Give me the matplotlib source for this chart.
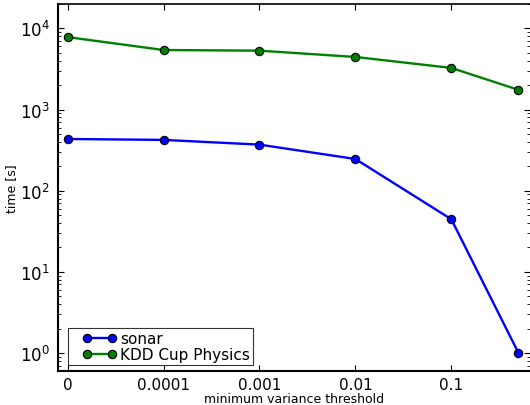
import matplotlib
matplotlib.use("Agg")
import matplotlib.pyplot as plt
from matplotlib.ticker import LogLocator, NullFormatter
from matplotlib.legend_handler import HandlerLine2D

# positions on the x axis (last point is 0.5, no tick label)
x_pos = [0, 1, 2, 3, 4, 4.7]
x_ticks = [0, 1, 2, 3, 4]
x_labels = ["0", "0.0001", "0.001", "0.01", "0.1"]

sonar = [434, 423, 370, 246, 44.5, 1.0]
kdd = [7820, 5420, 5320, 4450, 3260, 1750]

fig = plt.figure(figsize=(5.30, 4.06), dpi=100)
ax = fig.add_axes([0.1094, 0.0837, 0.8906, 0.904])

l1, = ax.plot(x_pos, sonar, "-o", color="blue", lw=1.7, ms=6, mec="black", mew=0.8, label="sonar")
l2, = ax.plot(x_pos, kdd, "-o", color="green", lw=1.7, ms=6, mec="black", mew=0.8, label="KDD Cup Physics")

ax.set_yscale("log")
ax.set_ylim(0.6, 2e4)
ax.set_xlim(-0.1, 4.82)
ax.set_xticks(x_ticks)
ax.set_xticklabels(x_labels)
ax.yaxis.set_minor_locator(LogLocator(base=10, subs=range(2, 10), numticks=20))
ax.yaxis.set_minor_formatter(NullFormatter())

ax.tick_params(which="both", direction="in", top=True, right=True)
ax.tick_params(which="major", length=4, width=0.8)
ax.tick_params(which="minor", length=2, width=0.6)
ax.tick_params(axis="x", labelsize=11, pad=4)
ax.tick_params(axis="y", labelsize=12, pad=6)
for s in ["left", "bottom"]:
    ax.spines[s].set_linewidth(1.5)
ax.spines["top"].set_linewidth(1.2)
ax.spines["right"].set_visible(False)

ax.set_xlabel("minimum variance threshold", fontsize=9, labelpad=0)
ax.set_ylabel("time [s]", fontsize=9, labelpad=1)

hm = {l1: HandlerLine2D(marker_pad=1.05), l2: HandlerLine2D(marker_pad=1.05)}
leg = ax.legend(loc="lower left", numpoints=2, fontsize=11, fancybox=False,
                borderpad=0.2, labelspacing=0.05, handlelength=3.73,
                handletextpad=-0.5, borderaxespad=0.0,
                bbox_to_anchor=(0.0212, 0.0163), handler_map=hm)
leg.get_frame().set_edgecolor("black")
leg.get_frame().set_linewidth(0.8)
# reference box has extra room on the right
leg._legend_box.set_figure(fig)
fig.canvas.draw()
bb = leg.get_frame().get_bbox()
leg.get_frame().set_width(bb.width + 9)

fig.savefig("out.png", dpi=100)
